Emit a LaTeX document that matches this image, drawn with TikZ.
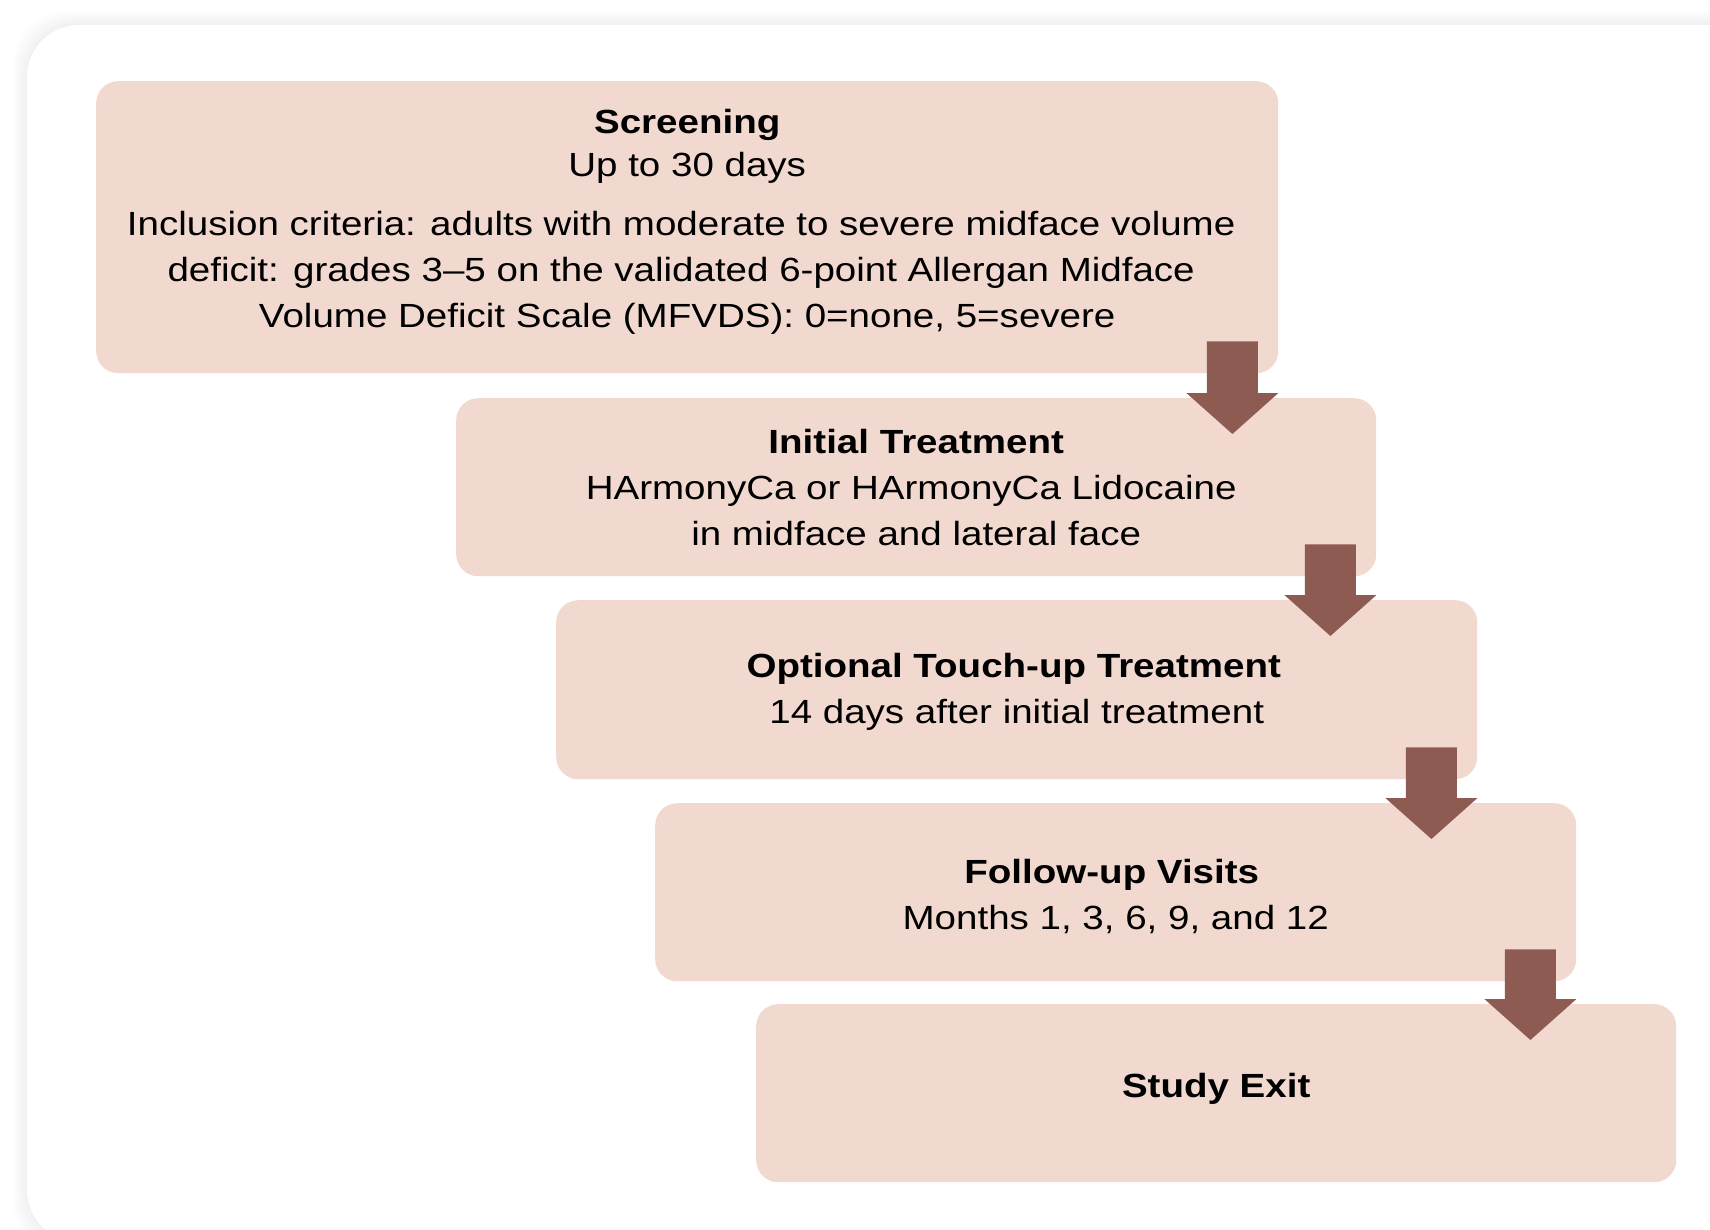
\documentclass[tikz,border=0pt]{standalone}
\usepackage{fontspec}
\setmainfont[FakeStretch=1.15]{Liberation Sans}
\usetikzlibrary{calc}
\definecolor{boxfill}{HTML}{F1D9CF}
\definecolor{arrowfill}{HTML}{8E5B53}
\newcommand{\flowarrow}[2]{%
  \coordinate (#1-top) at ($(#1.south east)+(-46,-32)$);
  \coordinate (#1-tip) at ($(#1-top |- #2.north)+(0,36)$);
  \fill[blockarrow] ($(#1-top)+(-25.5,0)$) -- ($(#1-top)+(25.5,0)$)
    -- ($(#1-tip)+(25.5,-41)$) -- ($(#1-tip)+(46,-41)$) -- (#1-tip)
    -- ($(#1-tip)+(-46,-41)$) -- ($(#1-tip)+(-25.5,-41)$) -- cycle;}
\begin{document}
\begin{tikzpicture}[x=1pt,y=-1pt,
  stage/.style={fill=boxfill, draw=none, rounded corners=22pt, inner sep=0pt, anchor=north west},
  txt/.style={anchor=base, inner sep=0pt, font=\fontsize{33.5}{46}\selectfont},
  btxt/.style={anchor=base, inner sep=0pt, font=\fontsize{33.5}{46}\selectfont\bfseries},
  blockarrow/.style={fill=arrowfill, draw=none}]
\useasboundingbox (0,0) rectangle (1710,1229);
\fill[white] (0,0) rectangle (1710,1229);
% background panel with soft shadow
\foreach \d in {14,12,10,8,6,4,2}{
  \fill[black, opacity=0.007, rounded corners=55pt] (27-\d,25-\d) rectangle (1770+\d,1242+\d);}
\fill[white, rounded corners=52pt] (27,25) rectangle (1770,1242);
% stages
\node[stage, minimum width=1182pt, minimum height=292pt] (s1) at (96,81) {};
\node[stage, minimum width=920pt, minimum height=178pt] (s2) at (456,398) {};
\node[stage, minimum width=921pt, minimum height=179pt] (s3) at (556,600) {};
\node[stage, minimum width=921pt, minimum height=178pt] (s4) at (655,803) {};
\node[stage, minimum width=920pt, minimum height=178pt] (s5) at (756,1004) {};
% texts
\node[btxt] (t1a) at ($(s1.north)+(0,52)$) {Screening};
\node[txt] (t1b) at ($(s1.north)+(0,95)$) {Up to 30 days};
\node[txt] (t1c) at ($(s1.north)+(-6,154)$) {Inclusion criteria: adults with moderate to severe midface volume};
\node[txt] (t1d) at ($(s1.north)+(-6,200)$) {deficit: grades 3–5 on the validated 6-point Allergan Midface};
\node[txt] (t1e) at ($(s1.north)+(0,246)$) {Volume Deficit Scale (MFVDS): 0=none, 5=severe};
\node[btxt] (t2a) at ($(s2.north)+(0,55)$) {Initial Treatment};
\node[txt] (t2b) at ($(s2.north)+(-5,101)$) {HArmonyCa or HArmonyCa Lidocaine};
\node[txt] (t2c) at ($(s2.north)+(0,147)$) {in midface and lateral face};
\node[btxt] (t3a) at ($(s3.north)+(-3,77)$) {Optional Touch-up Treatment};
\node[txt] (t3b) at ($(s3.north)+(0,123)$) {14 days after initial treatment};
\node[btxt] (t4a) at ($(s4.north)+(-4,80)$) {Follow-up Visits};
\node[txt] (t4b) at ($(s4.north)+(0,126)$) {Months 1, 3, 6, 9, and 12};
\node[btxt] (t5a) at ($(s5.north)+(0,93)$) {Study Exit};
% arrows
\flowarrow{s1}{s2}
\flowarrow{s2}{s3}
\flowarrow{s3}{s4}
\flowarrow{s4}{s5}
\end{tikzpicture}
\end{document}
